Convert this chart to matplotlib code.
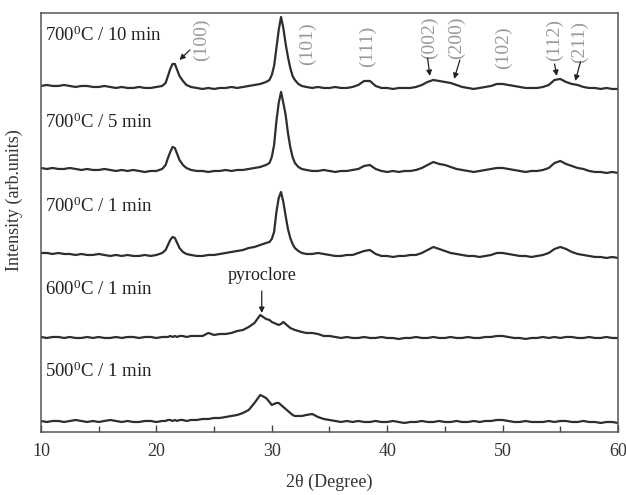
import matplotlib
matplotlib.use("Agg")
import matplotlib.pyplot as plt
import numpy as np

plt.rcParams['font.family'] = ['Liberation Serif', 'DejaVu Serif']
plt.rcParams['mathtext.fontset'] = 'custom'
plt.rcParams['mathtext.rm'] = 'Liberation Serif'
plt.rcParams['mathtext.it'] = 'Liberation Serif:italic'

# 2theta grid (degree), denser around the sharp peaks
two_theta = [10.0, 10.5, 11.0, 11.5, 12.0, 12.5, 13.0, 13.5, 14.0, 14.5, 15.0, 15.5,
             16.0, 16.5, 17.0, 17.5, 18.0, 18.5, 19.0, 19.5, 20.0, 20.5,
             20.8, 21.0, 21.2, 21.4, 21.6, 21.8, 22.0, 22.3, 22.6,
             23.0, 23.5, 24.0, 24.5, 25.0, 25.5, 26.0, 26.5, 27.0, 27.5, 28.0, 28.5, 29.0, 29.5,
             29.8, 30.0, 30.2, 30.4, 30.6, 30.8, 31.0, 31.2, 31.4, 31.6, 31.8, 32.0, 32.3, 32.6,
             33.0, 33.5, 34.0, 34.5, 35.0, 35.5, 36.0, 36.5, 37.0, 37.5,
             38.0, 38.5, 39.0, 39.5, 40.0, 40.5, 41.0, 41.5, 42.0, 42.5,
             43.0, 43.5, 44.0, 44.5, 45.0, 45.5, 46.0, 46.5, 47.0, 47.5,
             48.0, 48.5, 49.0, 49.5, 50.0, 50.5, 51.0, 51.5, 52.0, 52.5,
             53.0, 53.5, 54.0, 54.5, 55.0, 55.5, 56.0, 56.5, 57.0, 57.5,
             58.0, 58.5, 59.0, 59.5, 60.0]

# intensities (arb. units) for each sample
i_700_10 = [2, 3, 2, 2, 3, 2, 1, 2, 2, 1, 1, 2, 1, 0, 1, 0, 0, 1, 0, 0, 1, 2,
            5, 12, 19, 24, 24, 18, 12, 7, 3,
            1, 0, -1, 0, -1, 0, 0, 1, 0, 1, 2, 3, 4, 6,
            8, 13, 22, 40, 58, 71, 60, 44, 31, 20, 12, 8, 4, 2,
            1, 0, 1, 0, 0, 1, 0, 0, 1, 3,
            7, 7, 2, 0, 0, -1, 0, 0, 0, 1,
            3, 6, 8, 7, 6, 5, 3, 1, 0, -1,
            0, 1, 2, 4, 4, 3, 2, 1, 0, 0,
            0, 1, 3, 8, 9, 6, 4, 3, 1, 0,
            0, -1, 0, -1, -1]
i_700_5 = [3, 2, 3, 2, 2, 3, 2, 1, 2, 1, 1, 2, 1, 0, 1, 0, 1, 0, -1, 0, 0, 2,
           6, 13, 19, 24, 23, 17, 11, 6, 3,
           1, 0, 0, -1, 0, 0, 1, 0, 1, 1, 2, 3, 4, 6,
           8, 14, 26, 50, 68, 79, 68, 56, 38, 24, 14, 8, 4, 2,
           1, 0, 0, 1, 0, -1, 0, 0, 1, 2,
           5, 6, 2, 0, -1, 0, -1, 0, 0, 1,
           3, 6, 9, 7, 6, 4, 2, 1, 0, -1,
           0, 1, 2, 3, 3, 2, 1, 0, -1, 0,
           0, 1, 3, 8, 10, 7, 5, 3, 2, 0,
           -1, -1, -2, -1, -2]
i_700_1 = [3, 3, 2, 3, 2, 2, 1, 2, 1, 1, 2, 1, 0, 1, 0, 1, 0, 0, 1, 0, 1, 3,
           6, 11, 16, 19, 18, 13, 8, 4, 2,
           1, 0, 0, 1, 1, 2, 3, 4, 5, 6, 8, 9, 11, 13,
           14, 17, 24, 44, 58, 64, 54, 40, 27, 18, 12, 8, 5, 3,
           2, 2, 3, 2, 1, 0, 0, 1, 1, 3,
           5, 6, 2, 0, 0, -1, 0, 0, 1, 1,
           3, 6, 9, 7, 5, 3, 2, 1, 0, 0,
           -1, 0, 1, 3, 3, 2, 1, 0, 0, -1,
           0, 1, 3, 7, 9, 7, 4, 2, 1, 0,
           -1, -1, -2, -1, -2]
i_600_1 = [1, 0, 1, 1, 0, 1, 0, 0, 1, 0, 1, 0, 0, 1, 0, 1, 1, 0, 1, 1, 0, 1,
           1, 1, 2, 1, 2, 1, 2, 2, 1,
           2, 2, 2, 5, 3, 4, 4, 5, 7, 8, 11, 15, 23, 19,
           18, 16, 15, 14, 13, 14, 16, 14, 12, 10, 9, 8, 7, 6,
           5, 5, 4, 2, 2, 1, 0, 1, 0, 0,
           1, 0, 0, 1, 0, 0, -1, 0, 0, 1,
           0, 0, 1, 0, 0, 1, 0, 0, 1, 0,
           0, 1, 1, 2, 2, 1, 0, 0, -1, 0,
           0, 1, 0, 1, 0, 1, 1, 0, 0, 1,
           0, 0, 1, 0, 0]
i_500_1 = [1, 0, 1, 1, 0, 1, 2, 1, 0, 1, 0, 1, 2, 1, 0, 1, 0, 0, 1, 1, 0, 1,
           1, 2, 2, 1, 2, 1, 2, 2, 1,
           2, 2, 3, 3, 4, 4, 5, 6, 7, 9, 12, 19, 27, 24,
           20, 17, 18, 19, 19, 17, 15, 13, 11, 9, 7, 6, 6, 6,
           7, 8, 5, 3, 2, 1, 0, 1, 0, 1,
           0, 0, 1, 0, 0, 1, 0, -1, 0, 0,
           1, 0, 0, 1, 0, 0, 1, 0, 0, 1,
           0, 1, 1, 2, 2, 1, 0, 0, 1, 0,
           0, 0, 1, 0, 1, 1, 0, 0, 1, 0,
           0, -1, 0, 0, -1]

samples = [r'700$^0$C / 10 min', r'700$^0$C / 5 min', r'700$^0$C / 1 min',
           r'600$^0$C / 1 min', r'500$^0$C / 1 min']
traces = [i_700_10, i_700_5, i_700_1, i_600_1, i_500_1]
offsets = [344, 261, 176, 94, 10]
label_y = [391, 304, 220, 137, 55]

# peak indices: (label, label x, label y, arrow tail, arrow head)
hkl = ['(100)', '(101)', '(111)', '(002)', '(200)', '(102)', '(112)', '(211)']
hkl_x = [23.9, 33.1, 38.3, 43.7, 46.0, 50.1, 54.5, 56.7]
hkl_y = [392, 388, 386, 394, 394, 384, 392, 390]
arrows = [((22.9, 382), (22.0, 372)),
          ((43.5, 374), (43.7, 356)),
          ((46.3, 372), (45.8, 353)),
          ((54.5, 368), (54.7, 356)),
          ((56.75, 370), (56.3, 351))]

fig = plt.figure(figsize=(6.26, 4.95), dpi=100)
ax = fig.add_axes([0.0655, 0.1273, 0.9217, 0.8465])

x = np.array(two_theta)
for tr, off in zip(traces, offsets):
    ax.plot(x, np.array(tr) + off, color='#2e2e2e', lw=1.6)

for s, ly in zip(samples, label_y):
    ax.text(10.35, ly, s, fontsize=13.5, va='baseline', ha='left', color='#222222')

for h, hx, hy in zip(hkl, hkl_x, hkl_y):
    ax.text(hx, hy, h, rotation=90, fontsize=14, color='#999999', ha='center', va='center')

for tail, head in arrows:
    ax.annotate('', xy=head, xytext=tail,
                arrowprops=dict(arrowstyle='-|>', color='#222222', lw=0.9,
                                mutation_scale=8, shrinkA=0, shrinkB=0))

ax.text(29.13, 152, 'pyroclore', fontsize=13, ha='center', va='baseline', color='#222222')
ax.annotate('', xy=(29.13, 119), xytext=(29.13, 141),
            arrowprops=dict(arrowstyle='-|>', color='#222222', lw=0.9,
                            mutation_scale=8, shrinkA=0, shrinkB=0))

ax.set_xlim(10, 60)
ax.set_ylim(0, 419)
ax.set_xticks([10, 20, 30, 40, 50, 60])
ax.set_xticks([15, 25, 35, 45, 55], minor=True)
ax.set_yticks([])
ax.tick_params(axis='x', which='both', direction='in', top=False, labelsize=13,
               colors='#444444', labelcolor='#333333', pad=8)
ax.tick_params(axis='x', which='major', length=5, width=1)
ax.tick_params(axis='x', which='minor', length=4, width=1)
for sp in ax.spines.values():
    sp.set_color('#555555')
    sp.set_linewidth(1.1)

ax.set_xlabel('2θ (Degree)', fontsize=13, labelpad=10, color='#333333')
ax.set_ylabel('Intensity (arb.units)', fontsize=13, color='#333333')
ax.yaxis.set_label_coords(-0.032, 0.554)

fig.savefig('out.png', dpi=100)
